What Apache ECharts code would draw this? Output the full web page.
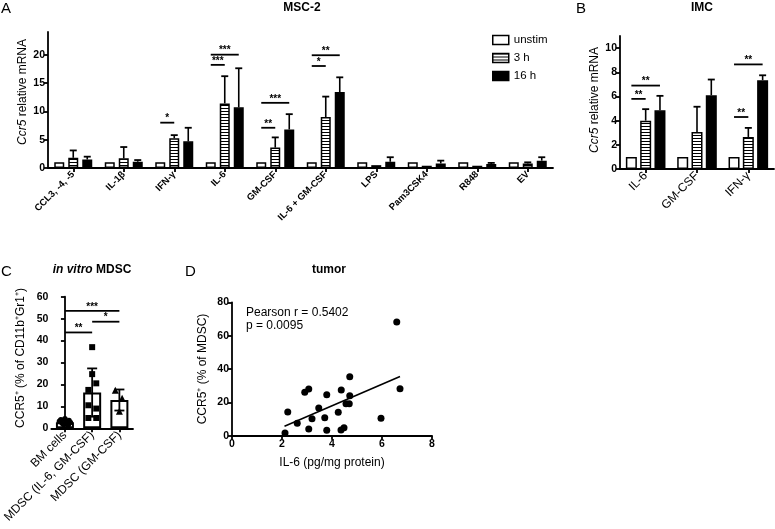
<!DOCTYPE html>
<html><head><meta charset="utf-8">
<script src="https://cdn.jsdelivr.net/npm/echarts@6/dist/echarts.min.js"></script>
<style>html,body{margin:0;padding:0;background:#fff}#c{width:775px;height:529px}</style>
</head><body><div id="c"></div>
<script>
const FONT = '"Liberation Sans", Arial, sans-serif';

// ---------- Panel A : MSC-2 ----------
const catsA = ['CCL3, -4, -5','IL-1β','IFN-γ','IL-6','GM-CSF','IL-6 + GM-CSF','LPS','Pam3CSK4','R848','EV'];
const unstimA   = [1, 1, 1, 1, 1, 1, 1, 1, 1, 1];
const h3A       = [1.8, 1.7, 5.25, 11.4, 3.6, 9.0, 0.5, 0.4, 0.4, 0.8];
const h3A_up    = [3.1, 3.7, 5.8, 16.2, 5.4, 12.6, 0.5, 0.4, 0.4, 1.0];
const h16A      = [1.5, 1.1, 4.7, 10.7, 6.8, 13.4, 1.1, 0.8, 0.7, 1.3];
const h16A_up   = [2.0, 1.4, 7.1, 17.6, 9.5, 16.0, 1.9, 1.3, 0.9, 1.9];
const yTicksA   = [0, 5, 10, 15, 20];
// [category, fromBar, toBar, level, stars]
const sigA = [[2,0,1,8.0,1],[3,0,1,18.2,3],[3,0,2,20.0,3],[4,0,1,7.1,2],[4,0,2,11.5,3],[5,0,1,18.0,1],[5,0,2,19.9,2]];

// ---------- Panel B : IMC ----------
const catsB   = ['IL-6','GM-CSF','IFN-γ'];
const unstimB = [1, 1, 1];
const h3B     = [4.0, 3.05, 2.65];
const h3B_up  = [4.95, 5.15, 3.4];
const h16B    = [4.85, 6.1, 7.35];
const h16B_up = [6.05, 7.4, 7.75];
const yTicksB = [0, 2, 4, 6, 8, 10];
const sigB = [[0,0,1,5.8,2],[0,0,2,6.9,2],[2,0,1,4.3,2],[2,0,2,8.65,2]];

// ---------- Panel C : in vitro MDSC ----------
const catsC = ['BM cells','MDSC (IL-6, GM-CSF)','MDSC (GM-CSF)'];
const meanC = [2.8, 16.3, 12.9];
const sdC   = [0.9, 11.0, 4.8];
const ptsBM      = [4.4, 3.9, 3.5, 3.2, 2.9, 2.6, 2.3, 2.0, 1.7, 1.4];
const jitBM      = [0, -0.15, 0.15, -0.2, 0.1, 0.2, -0.1, 0.05, -0.05, 0.12];
const ptsIL6GM   = [37.0, 24.7, 20.5, 17.5, 10.5, 9.0, 4.7, 4.7];
const jitIL6GM   = [0, 0, 0.15, -0.14, -0.14, 0.15, -0.14, 0.15];
const ptsGM      = [17.3, 13.7, 7.8];
const jitGM      = [-0.15, 0.1, 0];
// [fromBar, toBar, level, stars]
const sigC = [[0,1,43.7,2],[0,2,53.5,3],[1,2,48.6,1]];

// ---------- Panel D : tumor ----------
const il6D  = [2.12,2.23,2.61,2.91,3.07,3.07,3.2,3.47,3.71,3.79,3.79,4.25,4.37,4.36,4.48,4.56,4.69,4.71,4.71,5.96,6.59,6.72];
const ccr5D = [1.6,14.2,7.4,26,28,4,10.2,16.6,10.8,24.6,3.2,14,27.4,3.4,4.8,19.2,19.2,35.4,24,10.4,68.2,28.2];
const fitD  = [[2.1, 5.7], [6.72, 35.5]];

// ---------- helpers ----------
const hatch = (() => { const c = document.createElement('canvas'); c.width = 4; c.height = 3;
  const g = c.getContext('2d'); g.fillStyle = '#fff'; g.fillRect(0,0,4,3); g.fillStyle = '#000'; g.fillRect(0,0,4,1); return c; })();
const HATCH = {image: hatch, repeat: 'repeat'};
const BORDER = {borderColor: '#000', borderWidth: 1.5, opacity: 1};
const LW = 1.8;

function axLine() { return {show: true, onZero: true, lineStyle: {color: '#000', width: LW}}; }
function axTick(extra) { return Object.assign({show: true, inside: false, length: 4, lineStyle: {color: '#000', width: LW}}, extra || {}); }
function axLabel(extra) { return Object.assign({color: '#000', fontFamily: FONT, fontWeight: 'bold', fontSize: 10.5, margin: 3}, extra || {}); }

function errOne(shift) {
  return function (params, api) {
    const c = api.value(0), m = api.value(1), u = api.value(2);
    if (!(u > m)) return null;
    const p0 = api.coord([c, m]), p1 = api.coord([c, u]);
    const x = p0[0] + shift;
    return {type: 'group', children: [
      {type: 'line', shape: {x1: x, y1: p0[1], x2: x, y2: p1[1]}, style: {stroke: '#000', lineWidth: 1.6}},
      {type: 'line', shape: {x1: x - 3.5, y1: p1[1], x2: x + 3.5, y2: p1[1]}, style: {stroke: '#000', lineWidth: 1.8}}
    ]};
  };
}
function sigRender(step) {
  return function (params, api) {
    const c = api.value(0), f = api.value(1), t = api.value(2), lv = api.value(3), n = api.value(4);
    const p = api.coord([c, lv]);
    const x1 = p[0] + (f - 1) * step, x2 = p[0] + (t - 1) * step;
    return {type: 'group', children: [
      {type: 'line', shape: {x1: x1, y1: p[1], x2: x2, y2: p[1]}, style: {stroke: '#000', lineWidth: 1.8}},
      {type: 'text', style: {text: '*'.repeat(n), x: (x1 + x2) / 2, y: p[1] + 1, textAlign: 'center', textVerticalAlign: 'bottom', font: 'bold 10px ' + FONT, fill: '#000'}}
    ]};
  };
}

const chart = echarts.init(document.getElementById('c'), null, {renderer: 'canvas'});

const series = [];
// A bars
series.push({type:'bar', name:'unstim', xAxisIndex:0, yAxisIndex:0, data:unstimA, barWidth:10, barGap:'40%', itemStyle:Object.assign({color:'#fff'}, BORDER)});
series.push({type:'bar', name:'3 h', xAxisIndex:0, yAxisIndex:0, data:h3A, barWidth:10, barGap:'40%', itemStyle:Object.assign({color:HATCH}, BORDER)});
series.push({type:'bar', name:'16 h', xAxisIndex:0, yAxisIndex:0, data:h16A, barWidth:10, barGap:'40%', itemStyle:Object.assign({color:'#000'}, BORDER)});
series.push({type:'custom', xAxisIndex:0, yAxisIndex:0, z:5, renderItem: errOne(0), encode:{x:0,y:1}, data: catsA.map((_, i) => [i, h3A[i], h3A_up[i]])});
series.push({type:'custom', xAxisIndex:0, yAxisIndex:0, z:5, renderItem: errOne(14), encode:{x:0,y:1}, data: catsA.map((_, i) => [i, h16A[i], h16A_up[i]])});
series.push({type:'custom', xAxisIndex:0, yAxisIndex:0, z:5, renderItem: sigRender(14), encode:{x:0,y:3}, data: sigA});
// B bars
series.push({type:'bar', name:'unstim', xAxisIndex:1, yAxisIndex:1, data:unstimB, barWidth:11, barGap:'30%', itemStyle:Object.assign({color:'#fff'}, BORDER)});
series.push({type:'bar', name:'3 h', xAxisIndex:1, yAxisIndex:1, data:h3B, barWidth:11, barGap:'30%', itemStyle:Object.assign({color:HATCH}, BORDER)});
series.push({type:'bar', name:'16 h', xAxisIndex:1, yAxisIndex:1, data:h16B, barWidth:11, barGap:'30%', itemStyle:Object.assign({color:'#000'}, BORDER)});
series.push({type:'custom', xAxisIndex:1, yAxisIndex:1, z:5, renderItem: errOne(0), encode:{x:0,y:1}, data: catsB.map((_, i) => [i, h3B[i], h3B_up[i]])});
series.push({type:'custom', xAxisIndex:1, yAxisIndex:1, z:5, renderItem: errOne(14.3), encode:{x:0,y:1}, data: catsB.map((_, i) => [i, h16B[i], h16B_up[i]])});
series.push({type:'custom', xAxisIndex:1, yAxisIndex:1, z:5, renderItem: sigRender(14.3), encode:{x:0,y:3}, data: sigB});
// C bars
series.push({type:'bar', xAxisIndex:2, yAxisIndex:2, data:meanC, barWidth:18, itemStyle:{color:'#fff', borderColor:'#000', borderWidth:2, opacity:1}});
series.push({type:'custom', xAxisIndex:2, yAxisIndex:2, z:5, encode:{x:0,y:1},
  data: catsC.map((_, i) => [i, meanC[i] - sdC[i], meanC[i] + sdC[i]]),
  renderItem: function (params, api) {
    const c = api.value(0), lo = api.value(1), hi = api.value(2);
    const p0 = api.coord([c, lo]), p1 = api.coord([c, hi]);
    const x = p0[0];
    return {type:'group', children:[
      {type:'line', shape:{x1:x, y1:p0[1], x2:x, y2:p1[1]}, style:{stroke:'#000', lineWidth:1.8}},
      {type:'line', shape:{x1:x-5, y1:p1[1], x2:x+5, y2:p1[1]}, style:{stroke:'#000', lineWidth:1.8}},
      {type:'line', shape:{x1:x-5, y1:p0[1], x2:x+5, y2:p0[1]}, style:{stroke:'#000', lineWidth:1.8}}
    ]};
  }});
const PT = {color:'#000', opacity:1};
series.push({type:'scatter', xAxisIndex:3, yAxisIndex:2, z:6, symbol:'circle', symbolSize:5.5, itemStyle:PT, data: ptsBM.map((v, k) => [0 + jitBM[k], v])});
series.push({type:'scatter', xAxisIndex:3, yAxisIndex:2, z:6, symbol:'rect', symbolSize:6, itemStyle:PT, data: ptsIL6GM.map((v, k) => [1 + jitIL6GM[k], v])});
series.push({type:'scatter', xAxisIndex:3, yAxisIndex:2, z:6, symbol:'triangle', symbolSize:7, itemStyle:PT, data: ptsGM.map((v, k) => [2 + jitGM[k], v])});
series.push({type:'custom', xAxisIndex:2, yAxisIndex:2, z:5, encode:{x:0,y:2}, data: sigC,
  renderItem: function (params, api) {
    const f = api.value(0), t = api.value(1), lv = api.value(2), n = api.value(3);
    const a = api.coord([f, lv]), b = api.coord([t, lv]);
    return {type:'group', children:[
      {type:'line', shape:{x1:a[0], y1:a[1], x2:b[0], y2:b[1]}, style:{stroke:'#000', lineWidth:1.8}},
      {type:'text', style:{text:'*'.repeat(n), x:(a[0]+b[0])/2, y:a[1]+1, textAlign:'center', textVerticalAlign:'bottom', font:'bold 10px ' + FONT, fill:'#000'}}
    ]};
  }});
// D
series.push({type:'scatter', xAxisIndex:4, yAxisIndex:3, symbol:'circle', symbolSize:7, itemStyle:PT, data: il6D.map((x, k) => [x, ccr5D[k]])});
series.push({type:'line', xAxisIndex:4, yAxisIndex:3, symbol:'none', lineStyle:{color:'#000', width:1.6, opacity:1}, data: fitD});

function T(x, y, text, font, align, valign, extra) {
  return Object.assign({type:'text', x:x, y:y, z:100, style:Object.assign({text:text, font:font, fill:'#000', textAlign:align || 'left', textVerticalAlign:valign || 'top'}, (extra && extra.style) || {})}, extra && extra.rotation !== undefined ? {rotation: extra.rotation} : {});
}
const R90 = Math.PI / 2;
const graphic = [
  T(1, 1, 'A', '15px ' + FONT),
  T(576, 1, 'B', '15px ' + FONT),
  T(1, 264, 'C', '15px ' + FONT),
  T(185, 264, 'D', '15px ' + FONT),
  T(302, 8, 'MSC-2', 'bold 12px ' + FONT, 'center', 'middle'),
  T(702, 8, 'IMC', 'bold 12px ' + FONT, 'center', 'middle'),
  T(92, 270, '{i|in vitro}{b| MDSC}', 'bold 12px ' + FONT, 'center', 'middle', {style:{rich:{i:{fontStyle:'italic', fontWeight:'bold', fontSize:12, fontFamily:FONT}, b:{fontWeight:'bold', fontSize:12, fontFamily:FONT}}}}),
  T(329, 270, 'tumor', 'bold 12px ' + FONT, 'center', 'middle'),
  T(23, 92, '{i|Ccr5}{n| relative mRNA}', '12px ' + FONT, 'center', 'middle', {rotation:R90, style:{rich:{i:{fontStyle:'italic', fontSize:12, fontFamily:FONT}, n:{fontSize:12, fontFamily:FONT}}}}),
  T(595, 100, '{i|Ccr5}{n| relative mRNA}', '12px ' + FONT, 'center', 'middle', {rotation:R90, style:{rich:{i:{fontStyle:'italic', fontSize:12, fontFamily:FONT}, n:{fontSize:12, fontFamily:FONT}}}}),
  T(21, 358, 'CCR5⁺ (% of CD11b⁺Gr1⁺)', '12px ' + FONT, 'center', 'middle', {rotation:R90}),
  T(203, 369, 'CCR5⁺ (% of MDSC)', '12px ' + FONT, 'center', 'middle', {rotation:R90}),
  T(332, 463, 'IL-6 (pg/mg protein)', '12px ' + FONT, 'center', 'middle'),
  T(246, 313, 'Pearson r = 0.5402', '12px ' + FONT, 'left', 'middle'),
  T(246, 326, 'p = 0.0095', '12px ' + FONT, 'left', 'middle')
];

chart.setOption({
  animation: false,
  backgroundColor: '#fff',
  textStyle: {fontFamily: FONT},
  legend: {data: ['unstim', '3 h', '16 h'], orient: 'vertical', left: 492, top: 34, padding: 0, icon: 'rect', itemWidth: 16, itemHeight: 9, itemGap: 6,
    textStyle: {fontSize: 11.5, fontFamily: FONT, color: '#000'}, itemStyle: {borderColor: '#000', borderWidth: 1.5}, selectedMode: false},
  grid: [
    {left: 48, top: 32, width: 505, height: 136},
    {left: 620, top: 36, width: 154, height: 133},
    {left: 47, top: 296.7, width: 86, height: 131.6},
    {left: 232, top: 302.3, width: 200, height: 133.4}
  ],
  xAxis: [
    {type:'category', gridIndex:0, data:catsA, axisLine:axLine(), axisTick:axTick({alignWithLabel:true}), axisLabel:axLabel({rotate:45, fontSize:9.5, interval:0, margin:5}), splitLine:{show:false}},
    {type:'category', gridIndex:1, data:catsB, axisLine:axLine(), axisTick:axTick({alignWithLabel:true}), axisLabel:axLabel({rotate:45, fontSize:12, fontWeight:'normal', interval:0, margin:5}), splitLine:{show:false}},
    {type:'category', gridIndex:2, data:catsC, axisLine:axLine(), axisTick:axTick({alignWithLabel:true}), axisLabel:axLabel({rotate:45, fontSize:12, fontWeight:'normal', interval:0, margin:5}), splitLine:{show:false}},
    {type:'value', gridIndex:2, min:-0.5, max:2.5, show:false},
    {type:'value', gridIndex:3, min:0, max:8, interval:2, axisLine:axLine(), axisTick:axTick(), axisLabel:axLabel(), splitLine:{show:false}}
  ],
  yAxis: [
    {type:'value', gridIndex:0, min:0, max:24, axisLine:axLine(), axisTick:axTick({customValues:yTicksA}), axisLabel:axLabel({customValues:yTicksA}), splitLine:{show:false}},
    {type:'value', gridIndex:1, min:0, max:11, axisLine:axLine(), axisTick:axTick({customValues:yTicksB}), axisLabel:axLabel({customValues:yTicksB}), splitLine:{show:false}},
    {type:'value', gridIndex:2, min:0, max:60, interval:10, axisLine:axLine(), axisTick:axTick(), axisLabel:axLabel(), splitLine:{show:false}},
    {type:'value', gridIndex:3, min:0, max:80, interval:20, axisLine:axLine(), axisTick:axTick(), axisLabel:axLabel(), splitLine:{show:false}}
  ],
  graphic: graphic,
  series: series
});
</script>
</body></html>
